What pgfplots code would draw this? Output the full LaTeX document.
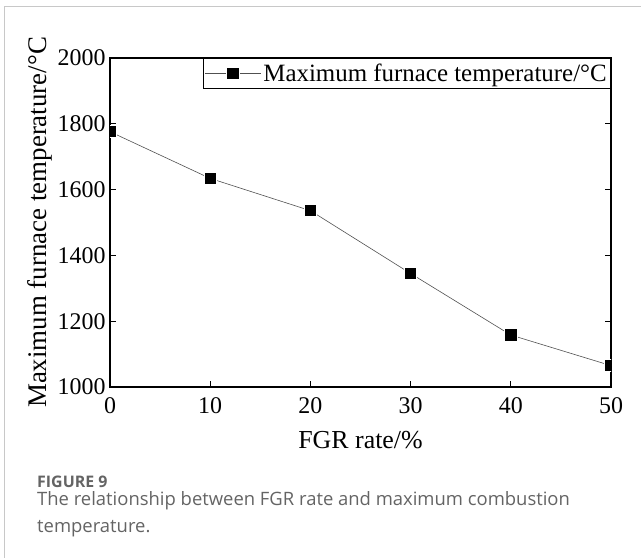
\documentclass[border=0pt]{standalone}
\usepackage{fontspec}
\setmainfont{Liberation Serif}
\newfontfamily\capfont{Open Sans}
\usepackage{pgfplots}
\pgfplotsset{compat=1.18}
\definecolor{framegray}{RGB}{200,200,200}
\definecolor{capgray}{RGB}{100,100,100}
\definecolor{linegray}{RGB}{80,80,80}
\begin{document}
\begin{tikzpicture}
\useasboundingbox (0,0) rectangle (641bp,558bp);
\draw[framegray, line width=1bp] (4bp,0) -- (4bp,551bp) -- (641bp,551bp);
\begin{axis}[
  at={(110bp,171bp)}, anchor=south west,
  scale only axis, width=501bp, height=329bp,
  xmin=0, xmax=50, ymin=1000, ymax=2000,
  xtick={0,10,20,30,40,50},
  ytick={1000,1200,1400,1600,1800,2000},
  xtick pos=left, ytick pos=both,
  tick align=inside,
  major tick length=6bp,
  minor tick num=0,
  axis line style={line width=1.1bp},
  every tick/.style={black, line width=1bp},
  /pgf/number format/assume math mode=true,
  /pgf/number format/1000 sep={},
  tick label style={font=\fontsize{24}{26}\selectfont},
  xticklabel style={yshift=-7bp},
  yticklabel style={xshift=-1bp},
  xlabel={FGR rate/\%},
  ylabel={Maximum furnace temperature/\textdegree C},
  xlabel style={font=\fontsize{26}{28}\selectfont, at={(axis description cs:0.5,-0.125)}, anchor=north},
  ylabel style={font=\fontsize{27}{29}\selectfont, at={(axis description cs:-0.126,0.5)}, anchor=base},
  clip marker paths=true,
  legend style={at={(1,1)}, anchor=north east, draw=black, line width=0.6bp,
    font=\fontsize{25}{27}\selectfont, inner xsep=2bp, inner ysep=3.5bp},
  legend cell align=left,
  legend image code/.code={\draw[#1,mark repeat=2,mark phase=2] plot coordinates {(0bp,0bp) (28bp,0bp) (56bp,0bp)};},
]
\addplot[linegray, line width=0.6bp, mark=square*, mark size=6.2bp,
  mark options={fill=black, draw=white, line width=1bp}]
  coordinates {(0,1776) (10,1634) (20,1536) (30,1345) (40,1158) (50,1065)};
\addlegendentry{Maximum furnace temperature/\textdegree C}
\end{axis}
\node[anchor=base west, inner sep=0, text=capgray, font=\capfont\bfseries\fontsize{16}{18}\selectfont] at (37bp,70bp) {FIGURE 9};
\node[anchor=base west, inner sep=0, text=capgray, font=\capfont\fontsize{18.5}{20}\selectfont] at (37bp,52bp) {The relationship between FGR rate and maximum combustion};
\node[anchor=base west, inner sep=0, text=capgray, font=\capfont\fontsize{18.5}{20}\selectfont] at (37bp,26bp) {temperature.};
\end{tikzpicture}
\end{document}
